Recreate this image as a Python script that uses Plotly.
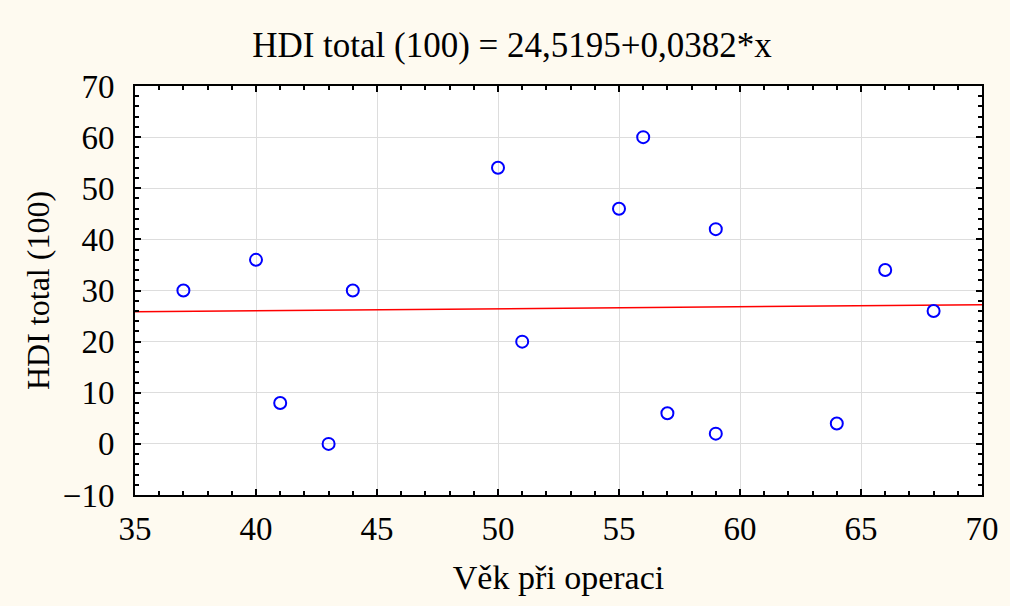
import plotly.graph_objects as go

age = [37, 40, 41, 43, 44, 50, 51, 55, 56, 57, 59, 59, 64, 66, 68]
hdi = [30, 36, 8, 0, 30, 54, 20, 46, 60, 6, 42, 2, 4, 34, 26]
intercept = 24.5195
slope = 0.0382
x_range = [35, 70]
y_range = [-10, 70]

font_family = "Liberation Serif, Times New Roman, serif"

fig = go.Figure()
fig.add_trace(go.Scatter(
    x=x_range, y=[intercept + slope * v for v in x_range],
    mode="lines", line=dict(color="#FF0000", width=1.5), hoverinfo="skip", showlegend=False))
fig.add_trace(go.Scatter(
    x=age, y=hdi, mode="markers",
    marker=dict(symbol="circle-open", size=12, color="#0000FF", line=dict(width=2, color="#0000FF")),
    showlegend=False))

axis_common = dict(
    showgrid=True, gridcolor="#DDDDDD", gridwidth=1,
    showline=True, linecolor="black", linewidth=2, mirror="allticks",
    ticks="inside", ticklen=6, tickwidth=2, tickcolor="black",
    zeroline=False, automargin=False,
    tickfont=dict(family=font_family, size=33, color="black"),
)

fig.update_layout(
    width=1010, height=606,
    paper_bgcolor="#FEFAF0", plot_bgcolor="white",
    margin=dict(l=135, r=28, t=86, b=111),
    title=dict(text="HDI total (100) = 24,5195+0,0382*x", x=512 / 1010, xref="container", xanchor="center",
               y=1 - 45 / 606, yref="container", yanchor="middle",
               font=dict(family=font_family, size=35, color="black")),
    xaxis=dict(range=x_range, dtick=5, tick0=35,
               title=dict(text="Věk při operaci", font=dict(family=font_family, size=34, color="black"), standoff=20),
               minor=dict(dtick=1, ticks="inside", ticklen=4, tickwidth=1.5, tickcolor="black", showgrid=False),
               ticklabelstandoff=3,
               **axis_common),
    yaxis=dict(range=y_range, dtick=10, tick0=-10,
               title=dict(text="HDI total (100)", font=dict(family=font_family, size=32, color="black"), standoff=4),
               minor=dict(dtick=2, ticks="inside", ticklen=4, tickwidth=1.5, tickcolor="black", showgrid=False),
               ticklabelstandoff=12,
               **axis_common),
)

fig.write_html("out.html")
